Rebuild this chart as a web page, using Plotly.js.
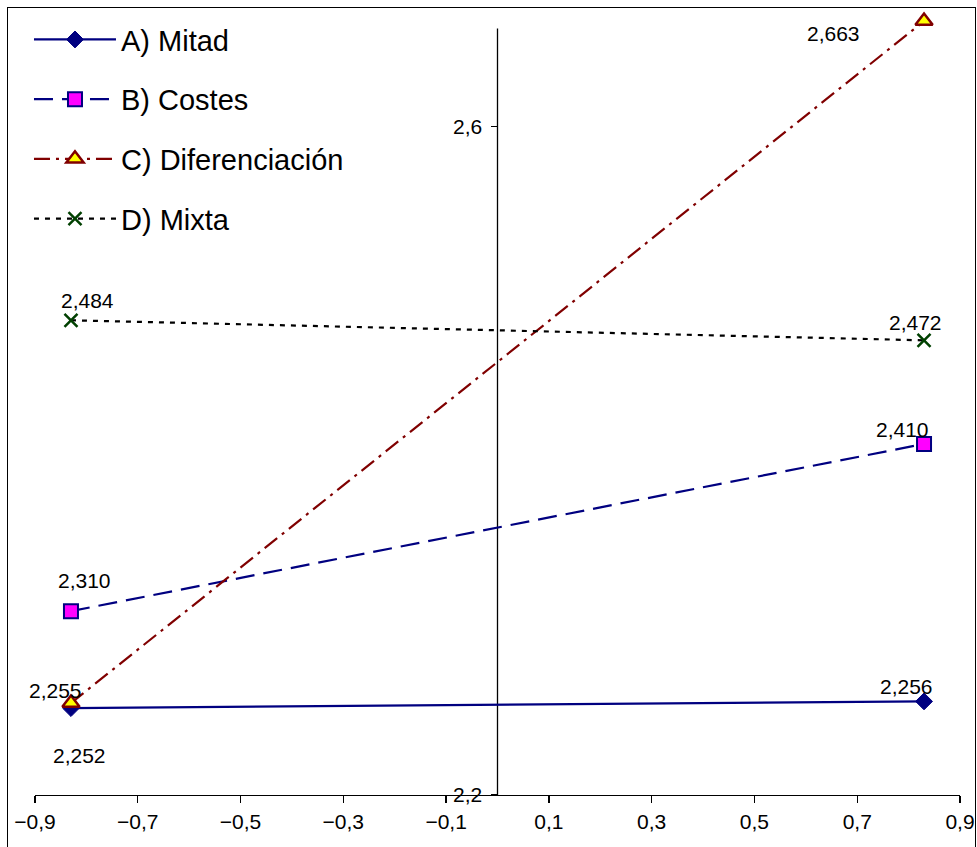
<!DOCTYPE html>
<html><head><meta charset="utf-8">
<script src="https://cdn.plot.ly/plotly-3.0.1.min.js"></script>
<style>
html,body{margin:0;padding:0;background:#fff;}
#frame{position:absolute;left:7px;top:7px;width:969px;height:900px;border:1.5px solid #000;box-sizing:border-box;}
#chart{position:absolute;left:0;top:0;width:977px;height:847px;}
</style></head><body>
<div id="frame"></div><div id="chart"></div>
<script>
// ---- data ----
const xValues = [-0.83, 0.83];
const seriesNames = ['A) Mitad', 'B) Costes', 'C) Diferenciación', 'D) Mixta'];
const mitad = [2.252, 2.256];
const costes = [2.310, 2.410];
const diferenciacion = [2.255, 2.663];
const mixta = [2.484, 2.472];
const xTickValues = [-0.9, -0.7, -0.5, -0.3, -0.1, 0.1, 0.3, 0.5, 0.7, 0.9];
const yTickValues = [2.2, 2.6];

// ---- styles ----
const Y_RANGE = [2.2, 2.675];
const Y_AXIS_TOP = 2.6586;
const FONT = 'Liberation Sans, Arial, sans-serif';
const styles = [
  {line: {color: '#000080', width: 2.2, dash: 'solid'},
   marker: {symbol: 'diamond', size: 13, color: '#000080', line: {color: '#000080', width: 1}}},
  {line: {color: '#000080', width: 2.2, dash: '19px,9px'},
   marker: {symbol: 'square', size: 14, color: '#FF00FF', line: {color: '#000080', width: 2}}},
  {line: {color: '#800000', width: 2.2, dash: '16px,6px,3px,6px'},
   marker: {symbol: 'triangle-up', size: 15, color: '#FFFF00', line: {color: '#800000', width: 2.5}}},
  {line: {color: '#000000', width: 2.2, dash: '5px,6px'},
   marker: {symbol: 'x-thin', size: 13, color: '#004000', line: {color: '#004000', width: 2.5}}}
];
// label offsets (px) per series, per point
const labelShiftX = [[9, -18], [14, -22], [-15, -91], [17, -9]];
const labelShiftY = [[-47, 15], [31, 14], [13, -12], [20, 18]];

const allSeries = [mitad, costes, diferenciacion, mixta];
const fmt = v => v.toFixed(3).replace('.', ',');

const traces = allSeries.map((vals, i) => ({
  x: xValues, y: vals, name: seriesNames[i], type: 'scatter', mode: 'lines+markers',
  line: styles[i].line, marker: styles[i].marker, cliponaxis: false,
  legendgroup: 'g' + i, hoverinfo: 'skip'
}));

const annotations = [];
allSeries.forEach((vals, i) => {
  vals.forEach((v, j) => {
    annotations.push({
      x: xValues[j], xref: 'x', y: v, yref: 'y',
      xanchor: 'center', yanchor: 'middle',
      text: fmt(v), showarrow: false,
      xshift: labelShiftX[i][j], yshift: labelShiftY[i][j],
      font: {family: FONT, size: 21, color: '#000'}
    });
  });
});

const layout = {
  width: 977, height: 847,
  margin: {l: 35, r: 17, t: 1, b: 52},
  paper_bgcolor: 'rgba(0,0,0,0)', plot_bgcolor: 'rgba(0,0,0,0)',
  separators: ', ',
  showlegend: true,
  legend: {
    x: -0.0065, xanchor: 'left', y: 0.9835, yanchor: 'top',
    font: {family: FONT, size: 29, color: '#000'},
    bgcolor: 'rgba(0,0,0,0)', borderwidth: 0,
    traceorder: 'grouped', tracegroupgap: 19, itemwidth: 82
  },
  xaxis: {
    range: [-0.9, 0.9], tickvals: xTickValues, tickformat: '.1f',
    showline: true, linecolor: '#000', linewidth: 1.3,
    ticks: 'outside', ticklen: 7, tickcolor: '#000', tickwidth: 1.3,
    showgrid: false, zeroline: false,
    tickfont: {family: FONT, size: 21, color: '#000'}
  },
  yaxis: {
    range: Y_RANGE, tickvals: yTickValues, tickformat: '.1f',
    anchor: 'free', position: 0.5,
    showline: false,
    ticks: 'outside', ticklen: 7, tickcolor: '#000', tickwidth: 1.3,
    ticklabelstandoff: 4,
    showgrid: false, zeroline: false,
    tickfont: {family: FONT, size: 21, color: '#000'}
  },
  shapes: [{
    type: 'line', xref: 'x', yref: 'y', x0: 0, x1: 0, y0: Y_RANGE[0], y1: Y_AXIS_TOP,
    line: {color: '#000', width: 1.3}, layer: 'below'
  }],
  annotations: annotations
};

Plotly.newPlot('chart', traces, layout, {displayModeBar: false, staticPlot: true});
</script>
</body></html>
